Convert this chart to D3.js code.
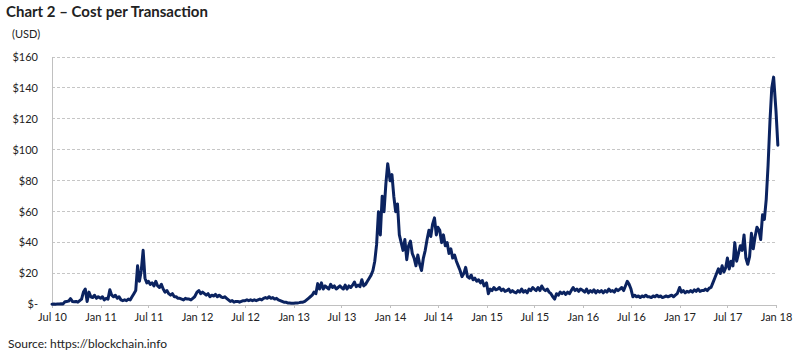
<!DOCTYPE html>
<html><head><meta charset="utf-8">
<script src="https://cdn.jsdelivr.net/npm/d3@7"></script>
<style>
body{margin:0;background:#fff;}
svg text{font-family:Lato,"Open Sans",sans-serif;fill:#222;}
</style>
</head><body>
<svg id="chart" width="800" height="357"></svg>
<script>
// Weekly values (USD per transaction), each half-year block has 26 weeks
const cost2010 = [0.2,0.3,0.2,0.4,0.3,0.5,0.4,1.8,2,2.2,3.8,2,1.8,2,1.5,2.5,3.5,8,10,2,8,5,4.5,6,4,5];
const cost2011 = [4,5,3,4,3.5,9.5,6,5,6,4,5,3,2.5,3,2.5,3.5,3,5,7,9,25,15,22,35,17,14,
                  15,13,14,12,15,12,11,13,10,8,9,7,6,7,5,5,4,4,3.5,3,4,3.5,3.5,3,4,5];
const cost2012 = [8,9,7,8,7,6,7,5,6,5.5,6.5,5,6,5,4.5,5,4,3,2,2.5,1.5,2,2,1.5,2,2.5,
                  2.5,3,2.5,3,2.5,3,2.5,3,3.5,3,4,4.5,4,5,4,4.5,3.5,4,3,2.5,2,1.5,1.5,1,1,0.8];
const cost2013 = [0.8,1,1,1.2,1.5,1.5,2,3,4,5,6,8,7,13.5,10,14,10,12,11,10,13,11,12,10,11,12,
                  11,10,12.5,10,12,11,12.5,14.5,11.5,12.5,11.5,16,12,13,15,17,19,22,28,39,60,45,70,60,78,91];
const cost2014 = [80,84,70,60,65,45,40,35,42,29,38,41,33,30,25,32,26,22,30,35,42,48,44,52,56,45,
                  50,48,40,45,38,40,33,36,30,32,28,25,22,18,20,24,18,17,19,16,17,15,16,14,15.5,12];
const cost2015 = [14,7,10,9,11,9.5,10,11,9,10,8.5,9,10,8,9,8,7.5,9,8,10,8,9,7.5,10,9,11,
                  10,9,11,9,12,10,9,10,8,7,5,3.5,7,6,8,7,8,6.5,8,7,9,11,9,10,8.5,10];
const cost2016 = [9,8,10,7.5,9,8,9.5,7.5,9,8,9,7.5,9,8,10,8.5,9,8,10,9,10,11,9,12,15,13,
                  10,5,6,5,5.5,4.5,5.5,5,6,5,5,4.5,5.5,5,6,5,5.5,4.5,5,5.5,5,5.5,6,5,6,7];
const cost2017 = [11,8,9,7.5,8.5,8,9,8,9.5,8.5,10,8.5,9,9,10,9,10.5,11,14,17,20,23,20,25,21,24,
                  30,23,28,25,40,28,33,38,35,45,30,26,31,46,36,44,50,48,42,58,55,68,90,118,140,147];
const cost2018 = [125,103];

const xTickLabels = ["Jul 10","Jan 11","Jul 11","Jan 12","Jul 12","Jan 13","Jul 13","Jan 14",
                     "Jul 14","Jan 15","Jul 15","Jan 16","Jul 16","Jan 17","Jul 17","Jan 18"];
const yTickValues = [0,20,40,60,80,100,120,140,160];
const yTickLabels = ["$-","$20","$40","$60","$80","$100","$120","$140","$160"];

const title = "Chart 2 \u2013 Cost per Transaction";
const unitLabel = "(USD)";
const source = "Source: https://blockchain.info";

// build dated series: blocks start Jan 1 / Jul 1, weekly steps
const yearBlocks = [
  {year:2010, firstHalf:1, values:cost2010},
  {year:2011, firstHalf:0, values:cost2011},
  {year:2012, firstHalf:0, values:cost2012},
  {year:2013, firstHalf:0, values:cost2013},
  {year:2014, firstHalf:0, values:cost2014},
  {year:2015, firstHalf:0, values:cost2015},
  {year:2016, firstHalf:0, values:cost2016},
  {year:2017, firstHalf:0, values:cost2017},
  {year:2018, firstHalf:0, values:cost2018}
];
const series = [];
yearBlocks.forEach(b => {
  b.values.forEach((v,i) => {
    const j = i + b.firstHalf*26;
    const half = Math.floor(j/26), k = j % 26;
    series.push({date:new Date(b.year, half*6, 1 + 7*k), value:v});
  });
});

const tickDates = xTickLabels.map((d,i) => new Date(2010 + Math.floor((i+1)/2), ((i+1)%2)*6, 1));

const svg = d3.select("#chart");
const x = d3.scaleTime().domain([new Date(2010,6,1), new Date(2018,0,1)]).range([52,776]);
const y = d3.scaleLinear().domain([0,160]).range([304.5,57]);

// gridlines
svg.append("g").selectAll("line").data(yTickValues.filter(v=>v>0)).join("line")
  .attr("x1",52).attr("x2",776).attr("y1",d=>y(d)).attr("y2",d=>y(d))
  .attr("stroke","#c6c6c6").attr("stroke-width",1).attr("stroke-dasharray","3,2")
  .attr("shape-rendering","crispEdges");

// y axis line
svg.append("line").attr("x1",52).attr("x2",52).attr("y1",y(160)).attr("y2",y(0))
  .attr("stroke","#c0c0c0").attr("shape-rendering","crispEdges");

// y labels
svg.append("g").selectAll("text").data(yTickValues).join("text")
  .attr("x",38).attr("y",d=>y(d)).attr("dy","0.35em").attr("text-anchor","end")
  .attr("font-size",11).text((d,i)=>yTickLabels[i]);

// x axis
const xAxis = d3.axisBottom(x).tickValues(tickDates).tickSize(3).tickPadding(6)
  .tickFormat((d,i)=>xTickLabels[i]);
const gx = svg.append("g").attr("transform",`translate(0,${y(0)})`).call(xAxis);
gx.select(".domain").attr("stroke","#c0c0c0").attr("shape-rendering","crispEdges");
gx.selectAll(".tick line").attr("stroke","#c0c0c0").attr("shape-rendering","crispEdges");
gx.selectAll(".tick text").attr("font-size",11).attr("fill","#222")
  .attr("font-family","Lato, 'Open Sans', sans-serif");

// line
const line = d3.line().x(d=>x(d.date)).y(d=>y(d.value));
svg.append("path").datum(series).attr("d",line).attr("fill","none")
  .attr("stroke","#0b2360").attr("stroke-width",3)
  .attr("stroke-linejoin","round").attr("stroke-linecap","round");

// texts
svg.append("text").attr("x",6).attr("y",17).attr("font-size",15).attr("font-weight","bold")
  .attr("fill","#111").text(title);
svg.append("text").attr("x",12).attr("y",38).attr("font-size",11).text(unitLabel);
svg.append("text").attr("x",8).attr("y",348).attr("font-size",12).text(source);
</script>
</body></html>
